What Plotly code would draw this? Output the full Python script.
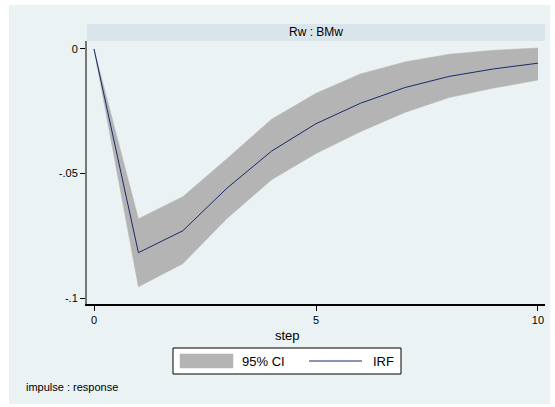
import plotly.graph_objects as go

steps = [0, 1, 2, 3, 4, 5, 6, 7, 8, 9, 10]
irf = [0, -0.0818, -0.0730, -0.0558, -0.0410, -0.0300, -0.0218, -0.0155, -0.0110, -0.0080, -0.0057]
upper = [0, -0.0682, -0.0593, -0.0440, -0.0282, -0.0178, -0.0100, -0.0052, -0.0021, -0.0005, 0.0004]
lower = [0, -0.0955, -0.0862, -0.0680, -0.0525, -0.0420, -0.0332, -0.0255, -0.0195, -0.0157, -0.0125]
ytick_vals = [0, -0.05, -0.1]
ytick_text = ["0", "-.05", "-.1"]
xtick_vals = [0, 5, 10]
panel_title = "Rw : BMw"
note = "impulse : response"

W, H = 555, 407
L, R, T, B = 87, 10, 41, 103
pw, ph = W - L - R, H - T - B

def px(x):
    return (x - L) / pw

def py(y):
    return (H - B - y) / ph

FONT = "Liberation Sans, Arial, sans-serif"
BAND = "#b4b4b4"
LINE = "#1a2a6c"
PANEL = "#eaf2f3"

fig = go.Figure()
fig.add_trace(go.Scatter(x=steps, y=lower, mode="lines", line=dict(color=BAND, width=0.5),
                         showlegend=False, hoverinfo="skip"))
fig.add_trace(go.Scatter(x=steps, y=upper, mode="lines", line=dict(color=BAND, width=0.5),
                         fill="tonexty", fillcolor=BAND, showlegend=False, hoverinfo="skip"))
fig.add_trace(go.Scatter(x=steps, y=irf, mode="lines", line=dict(color=LINE, width=1),
                         showlegend=False))

shapes = []
# outer panel
shapes.append(dict(type="rect", xref="paper", yref="paper", x0=px(9), x1=px(550), y0=py(404), y1=py(5),
                   fillcolor=PANEL, line=dict(width=0), layer="below"))
# title strip
shapes.append(dict(type="rect", xref="paper", yref="paper", x0=0, x1=1, y0=py(41), y1=py(24),
                   fillcolor="#d9e5eb", line=dict(width=0), layer="below"))
# legend box
shapes.append(dict(type="rect", xref="paper", yref="paper", x0=px(173), x1=px(401), y0=py(374), y1=py(348),
                   fillcolor="white", line=dict(color="black", width=1)))
shapes.append(dict(type="rect", xref="paper", yref="paper", x0=px(180), x1=px(233), y0=py(368), y1=py(354),
                   fillcolor=BAND, line=dict(color=BAND, width=0.5)))
shapes.append(dict(type="line", xref="paper", yref="paper", x0=px(309), x1=px(362), y0=py(361), y1=py(361),
                   line=dict(color=LINE, width=1)))

annotations = [
    dict(text=panel_title, xref="paper", yref="paper", x=0.5, y=py(32.5), showarrow=False,
         font=dict(family=FONT, size=12, color="black"), xanchor="center", yanchor="middle"),
    dict(text="step", xref="paper", yref="paper", x=px(287), y=py(335), showarrow=False,
         font=dict(family=FONT, size=13, color="black"), xanchor="center", yanchor="middle"),
    dict(text="95% CI", xref="paper", yref="paper", x=px(240), y=py(361), showarrow=False,
         font=dict(family=FONT, size=13, color="black"), xanchor="left", yanchor="middle"),
    dict(text="IRF", xref="paper", yref="paper", x=px(371), y=py(361), showarrow=False,
         font=dict(family=FONT, size=13, color="black"), xanchor="left", yanchor="middle"),
    dict(text=note, xref="paper", yref="paper", x=px(24), y=py(387), showarrow=False,
         font=dict(family=FONT, size=11, color="black"), xanchor="left", yanchor="middle"),
]

fig.update_layout(
    width=W, height=H,
    margin=dict(l=L, r=R, t=T, b=B, pad=0),
    paper_bgcolor="white",
    plot_bgcolor="white",
    showlegend=False,
    shapes=shapes,
    annotations=annotations,
    font=dict(family=FONT, size=11, color="black"),
    xaxis=dict(range=[-0.158, 10.158], tickvals=xtick_vals, ticks="outside", ticklen=5,
               tickcolor="black", showgrid=False, zeroline=False, showline=True,
               linecolor="black", linewidth=1.5, tickfont=dict(family=FONT, size=11)),
    yaxis=dict(range=[-0.10241, 0.00321], tickvals=ytick_vals, ticktext=ytick_text,
               ticks="outside", ticklen=5, tickcolor="black", showgrid=True,
               gridcolor=PANEL, gridwidth=1, zeroline=False, showline=True,
               linecolor="#777777", linewidth=2, tickfont=dict(family=FONT, size=11)),
)

fig.write_html("out.html")
